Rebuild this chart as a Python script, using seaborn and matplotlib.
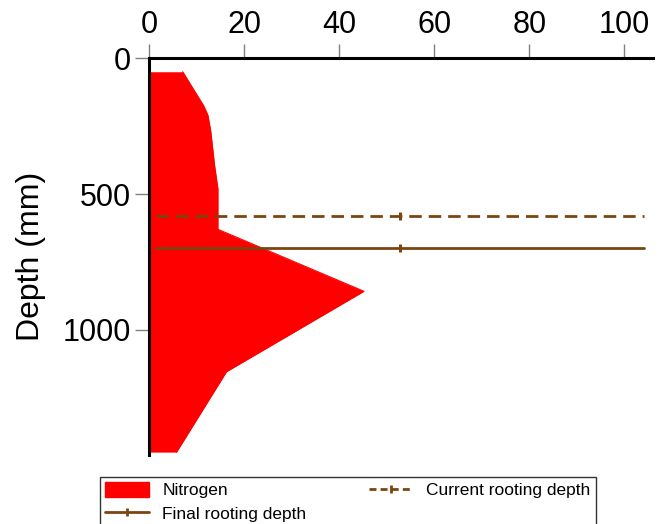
import matplotlib
matplotlib.use("Agg")
import matplotlib.pyplot as plt
import seaborn as sns
import pandas as pd
from matplotlib.patches import Patch
from matplotlib.lines import Line2D

sns.set_style("white")
plt.rcParams['font.family'] = ['Liberation Sans', 'DejaVu Sans']
plt.rcParams['text.color'] = 'black'
plt.rcParams['axes.labelcolor'] = 'black'
plt.rcParams['xtick.color'] = 'black'
plt.rcParams['ytick.color'] = 'black'

# Data
depth = [50, 175, 210, 270, 333, 395, 481, 630, 858, 1154, 1450]
nitrogen = [7.1, 11.5, 12.4, 13.0, 13.4, 13.8, 14.5, 14.5, 45.2, 16.3, 5.8]
current_depth = 580
final_depth = 700
line_x = [1.5, 52.75, 104]
xticks = [0, 20, 40, 60, 80, 100]
yticks = [0, 500, 1000]

red = '#ff0000'
brown = '#7a4510'

fig = plt.figure(figsize=(6.65, 5.24), dpi=100)
ax = fig.add_axes([0.224, 0.132, 0.758, 0.757])

df = pd.DataFrame({'depth': depth, 'nitrogen': nitrogen})
ax.fill_betweenx(df['depth'], 0, df['nitrogen'], color=red, linewidth=0)
sns.lineplot(data=df, x='nitrogen', y='depth', orient='y', color=red,
             linewidth=0.8, ax=ax, sort=False)

cur = pd.DataFrame({'x': line_x, 'y': [current_depth] * len(line_x)})
fin = pd.DataFrame({'x': line_x, 'y': [final_depth] * len(line_x)})
sns.lineplot(data=cur, x='x', y='y', color=brown, linewidth=2.0,
             ax=ax, marker='|', markersize=6, mew=2.2, mec=brown, mfc=brown,
             markevery=[1], linestyle=(0, (4.5, 2.5)))
sns.lineplot(data=fin, x='x', y='y', color=brown, linewidth=2.0,
             ax=ax, marker='|', markersize=6, mew=2.2, mec=brown, mfc=brown,
             markevery=[1])

ax.set_xlim(0, 106)
ax.set_ylim(1460, 0)
ax.set_xticks(xticks)
ax.set_yticks(yticks)
ax.xaxis.tick_top()
ax.set_xlabel('')
ax.set_ylabel('Depth (mm)', fontsize=23, labelpad=12)
ax.tick_params(axis='both', which='major', labelsize=22, length=10,
               width=1, color='#808080', direction='out', pad=3,
               labelcolor='black')
ax.tick_params(axis='x', top=True, bottom=False, labeltop=True, labelbottom=False)
ax.tick_params(axis='y', left=True, right=False)

for side in ['right', 'bottom']:
    ax.spines[side].set_visible(False)
for side in ['top', 'left']:
    ax.spines[side].set_visible(True)
    ax.spines[side].set_color('black')
    ax.spines[side].set_linewidth(2.2)

handles = [
    Patch(facecolor=red, edgecolor=red, label='Nitrogen'),
    Line2D([0, 1], [0, 0], color=brown, linewidth=2.0, marker='|',
           markersize=6, mew=2, mec=brown, markevery=[1],
           label='Final rooting depth'),
    Line2D([0, 1], [0, 0], color=brown, linewidth=2.0, marker='|',
           markersize=6, mew=2, mec=brown, markevery=[1],
           linestyle=(0, (2.5, 1.5)), label='Current rooting depth'),
]
leg = fig.legend(handles=handles, loc='upper left',
                 bbox_to_anchor=(100 / 665, 1 - 477 / 524), ncol=2,
                 fontsize=12.5, frameon=True, fancybox=False, shadow=False,
                 handlelength=2.5, handleheight=0.9, columnspacing=3.6,
                 borderpad=0.3, labelspacing=0.4, handletextpad=0.8,
                 borderaxespad=0)
leg.get_frame().set_edgecolor('black')
leg.get_frame().set_linewidth(1.0)

fig.savefig('out.png', dpi=100)
